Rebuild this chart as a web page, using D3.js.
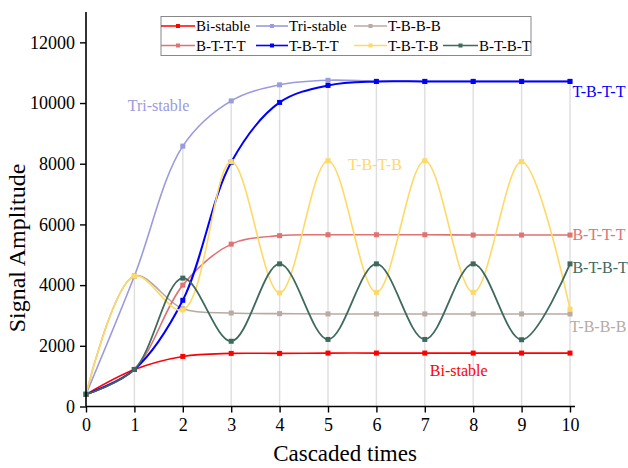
<!DOCTYPE html>
<html>
<head>
<meta charset="utf-8">
<script src="https://cdn.jsdelivr.net/npm/d3@7"></script>
<style>
  body { margin: 0; background: #fff; }
  svg text { font-family: "Liberation Serif", "Times New Roman", serif; }
</style>
</head>
<body>
<svg id="chart"></svg>
<script>
const cascades = [0, 1, 2, 3, 4, 5, 6, 7, 8, 9, 10];
const biStable  = [400, 1220, 1650, 1750, 1750, 1760, 1760, 1760, 1760, 1760, 1760];
const triStable = [400, 4300, 8580, 10070, 10600, 10750, 10720, 10720, 10720, 10720, 10720];
const tBBB      = [400, 4300, 3220, 3080, 3060, 3050, 3050, 3050, 3050, 3050, 3050];
const bTTT      = [400, 1220, 4000, 5350, 5630, 5660, 5660, 5660, 5650, 5650, 5650];
const tBTT      = [400, 1220, 3500, 8050, 10020, 10580, 10710, 10710, 10710, 10710, 10710];
const tBTB      = [400, 4300, 3180, 8070, 3740, 8100, 3760, 8100, 3760, 8070, 3210];
const bTBT      = [400, 1220, 4230, 2150, 4700, 2210, 4700, 2210, 4700, 2200, 4700];
const yTicks = [0, 2000, 4000, 6000, 8000, 10000, 12000];

const seriesNames = ["Bi-stable", "Tri-stable", "T-B-B-B", "B-T-T-T", "T-B-T-T", "T-B-T-B", "B-T-B-T"];
const seriesValues = [biStable, triStable, tBBB, bTTT, tBTT, tBTB, bTBT];
const seriesColors = ["#ff0000", "#9a9ade", "#b9aaa2", "#e07272", "#0000ff", "#ffd966", "#3e6a5e"];
const seriesWidths = [1.6, 1.6, 1.6, 1.6, 2, 1.6, 1.8];

const W = 628, H = 468;
const margin = {top: 12, right: 58, bottom: 62, left: 86};

const svg = d3.select("#chart").attr("width", W).attr("height", H);

const x = d3.scaleLinear().domain([0, 10]).range([margin.left, 570]);
const y = d3.scaleLinear().domain([0, 13000]).range([406.5, margin.top]);

// drop lines from the highest point of each cascade
svg.append("g").selectAll("line")
  .data(cascades.filter(c => c > 0))
  .join("line")
    .attr("x1", d => x(d)).attr("x2", d => x(d))
    .attr("y1", y(0))
    .attr("y2", d => y(d3.max(seriesValues, s => s[d])))
    .attr("stroke", "#dedede")
    .attr("stroke-width", 1.4);

const line = d3.line()
  .x((d, i) => x(cascades[i]))
  .y(d => y(d))
  .curve(d3.curveCatmullRom.alpha(0.5));

const series = seriesNames.map((name, k) => ({name, values: seriesValues[k], color: seriesColors[k], w: seriesWidths[k]}));

const g = svg.append("g");
series.forEach(s => {
  g.append("path")
    .attr("d", line(s.values))
    .attr("fill", "none")
    .attr("stroke", s.color)
    .attr("stroke-width", s.w);
  g.selectAll(null)
    .data(s.values)
    .join("rect")
      .attr("x", (d, i) => x(cascades[i]) - 2.5)
      .attr("y", d => y(d) - 2.5)
      .attr("width", 5).attr("height", 5)
      .attr("fill", s.color);
});

// axes
const xAxis = svg.append("g")
  .attr("transform", `translate(0,${y(0)})`)
  .call(d3.axisBottom(x).tickValues(cascades).tickSize(6).tickPadding(6).tickFormat(d3.format("d")));
xAxis.select(".domain").attr("d", `M${x(0)},0H575`);

const yAxis = svg.append("g")
  .attr("transform", `translate(${x(0)},0)`)
  .call(d3.axisLeft(y).tickValues(yTicks).tickSize(6).tickPadding(5).tickFormat(d3.format("d")));
yAxis.select(".domain").attr("d", `M0,${margin.top}V${y(0)}`);

[xAxis, yAxis].forEach(a => {
  a.attr("font-family", '"Liberation Serif", serif').attr("font-size", 18);
  a.select(".domain").attr("stroke", "#000").attr("stroke-width", 1.6);
  a.selectAll(".tick line").attr("stroke", "#000").attr("stroke-width", 1.4);
  a.selectAll(".tick text").attr("fill", "#000");
});

svg.append("text")
  .attr("x", 345).attr("y", 461)
  .attr("text-anchor", "middle")
  .style("font-size", "23px")
  .text("Cascaded times");

svg.append("text")
  .attr("transform", "translate(25,248) rotate(-90)")
  .attr("text-anchor", "middle")
  .style("font-size", "24px")
  .text("Signal Amplitude");

// in-plot labels
const labels = [
  {text: "Tri-stable", cx: 1.5, v: 9750, color: "#9a9ade", anchor: "middle"},
  {text: "T-B-T-T", cx: 10.05, v: 10200, color: "#0000ff", anchor: "start"},
  {text: "T-B-T-B", cx: 5.97, v: 7800, color: "#ffd966", anchor: "middle"},
  {text: "B-T-T-T", cx: 10.05, v: 5500, color: "#e07272", anchor: "start"},
  {text: "B-T-B-T", cx: 10.05, v: 4400, color: "#3e6a5e", anchor: "start"},
  {text: "T-B-B-B", cx: 10.0, v: 2450, color: "#b9aaa2", anchor: "start"},
  {text: "Bi-stable", cx: 7.7, v: 1020, color: "#ff0000", anchor: "middle"}
];
svg.append("g").selectAll("text")
  .data(labels)
  .join("text")
    .attr("x", d => x(d.cx))
    .attr("y", d => y(d.v))
    .attr("text-anchor", d => d.anchor)
    .attr("fill", d => d.color)
    .style("font-size", "16px")
    .text(d => d.text);

// legend
const legend = svg.append("g");
legend.append("rect")
  .attr("x", 161).attr("y", 16.5).attr("width", 370).attr("height", 39)
  .attr("fill", "#fff").attr("stroke", "#888").attr("stroke-width", 1);
const legendPos = [
  {x1: 161, x2: 195, row: 0}, {x1: 256, x2: 288, row: 0}, {x1: 354, x2: 387, row: 0},
  {x1: 161, x2: 195, row: 1}, {x1: 256, x2: 288, row: 1}, {x1: 354, x2: 387, row: 1}, {x1: 443, x2: 478, row: 1}
];
series.forEach((s, k) => {
  const p = legendPos[k];
  const ly = p.row === 0 ? 26 : 45.5;
  legend.append("line")
    .attr("x1", p.x1).attr("x2", p.x2).attr("y1", ly).attr("y2", ly)
    .attr("stroke", s.color).attr("stroke-width", 1.6);
  legend.append("rect")
    .attr("x", (p.x1 + p.x2) / 2 - 2).attr("y", ly - 2)
    .attr("width", 4).attr("height", 4).attr("fill", s.color);
  legend.append("text")
    .attr("x", p.x2 + 1).attr("y", ly + 5)
    .style("font-size", "15px")
    .attr("fill", "#000")
    .text(s.name);
});
</script>
</body>
</html>
